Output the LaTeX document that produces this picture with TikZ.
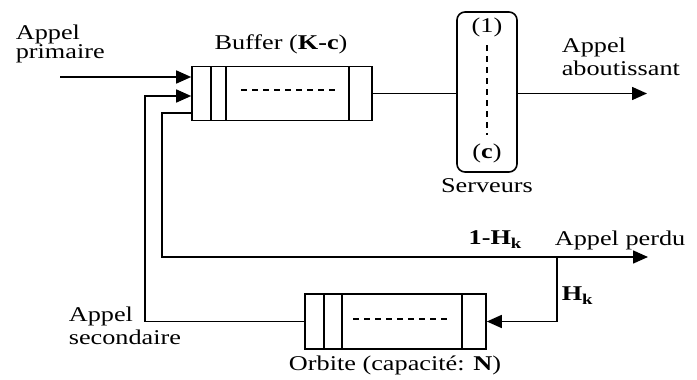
\documentclass[tikz,border=0pt]{standalone}
\usepackage{fontspec}
\setmainfont{Liberation Serif}[FakeStretch=1.25]
\usetikzlibrary{arrows.meta}
\newcommand{\subk}{\raisebox{-4pt}{\fontsize{15}{15}\selectfont\textbf{k}}}
\begin{document}
\begin{tikzpicture}[x=1pt,y=-1pt, line width=1.6pt,
  lbl/.style={font=\fontsize{21}{21}\selectfont, inner sep=0pt, align=left},
  queue/.style={draw, minimum height=54pt, inner sep=0pt},
  arr/.style={-{Triangle[length=15pt,width=13pt]}},
  dsh/.style={dash pattern=on 6pt off 5pt, line width=1.4pt}]
\useasboundingbox (0,0) rectangle (697,380);
% buffer
\node[queue, minimum width=180pt] (buf) at (282,93.5) {};
\draw (211,67) -- (211,120) (226,67) -- (226,120) (349,67) -- (349,120);
\draw[dsh] (241,90) -- (335,90);
% orbit
\node[queue, minimum width=181pt, minimum height=55pt] (orb) at (395.5,321.5) {};
\draw (324,294) -- (324,349) (342,294) -- (342,349) (462,294) -- (462,349);
\draw[dsh] (353,319) -- (447,319);
% server
\node[draw, rounded corners=8pt, minimum width=60pt, minimum height=160pt, inner sep=0pt] (srv) at (487,92) {};
\node[lbl] (t1) at (487,27) {(1)};
\node[lbl] (tc) at (487,153) {(\textbf{c})};
\draw[dsh] (487,45) -- (487,135);
\node[lbl] (tsrv) at (487,186) {Serveurs};
% coordinates
\coordinate (pin) at (60,77);
\coordinate (s1) at (145,321.5);
\coordinate (s2) at (145,96);
\coordinate (r1) at (162,257);
\coordinate (r2) at (162,113);
\coordinate (br) at (557,257);
\coordinate (lost) at (648,257);
\coordinate (out) at (647,93.5);
% connectors
\draw[arr] (pin) -- (pin -| buf.west);
\draw[arr] (orb.west) -- (s1) -- (s2) -- (s2 -| buf.west);
\draw[arr] (r2 -| buf.west) -- (r2) -- (r1) -- (lost);
\draw[arr] (br) -- (br |- orb.east) -- (orb.east);
\draw (buf.east) -- (buf.east -| srv.west);
\draw[arr] (srv.east |- buf.east) -- (out);
% labels
\node[lbl, anchor=west, font=\fontsize{21}{19}\selectfont] (tprim) at (15,44) {Appel\\primaire};
\node[lbl] (tbuf) at (281,44) {Buffer (\textbf{K-c})};
\node[lbl, anchor=west, font=\fontsize{21}{23}\selectfont] (tabo) at (561,57) {Appel\\aboutissant};
\node[lbl] (t1h) at (495,240) {\textbf{1-H}\subk};
\node[lbl, anchor=west] (tper) at (554,240) {Appel perdu};
\node[lbl, anchor=west] (thk) at (561,296) {\textbf{H}\subk};
\node[lbl, anchor=west, font=\fontsize{21}{23}\selectfont] (tsec) at (68,326) {Appel\\secondaire};
\node[lbl] (torb) at (395,365) {Orbite (capacité: \textbf{N})};
\end{tikzpicture}
\end{document}
